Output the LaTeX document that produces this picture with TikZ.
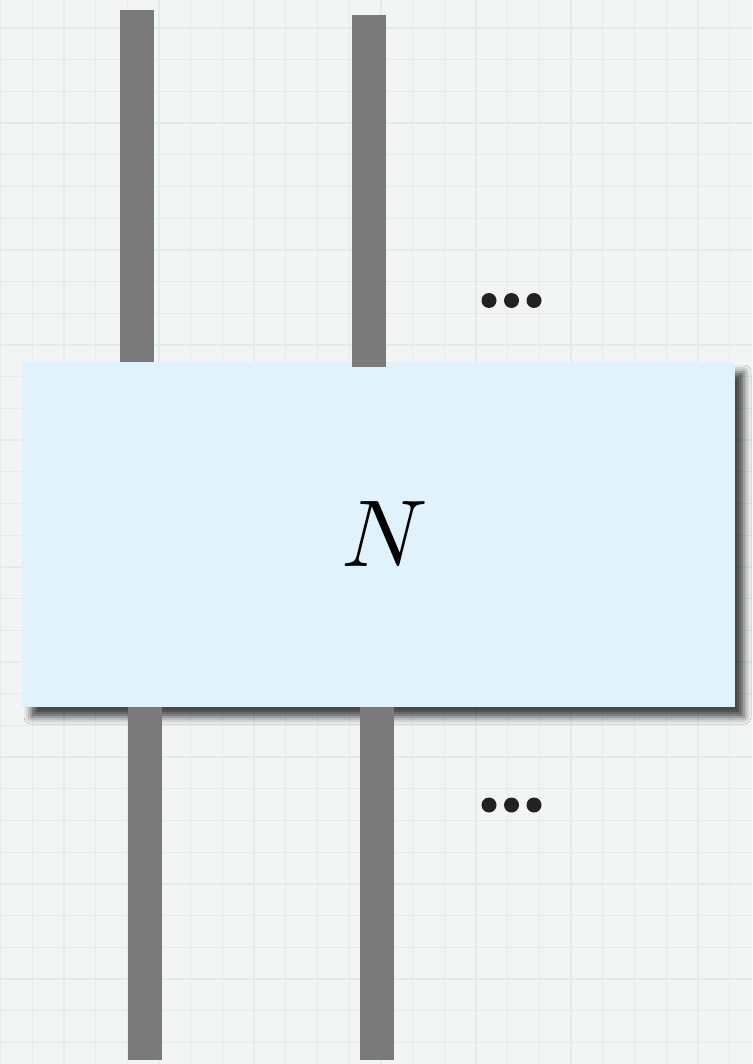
\documentclass[tikz,border=0pt]{standalone}
\usetikzlibrary{positioning,shadows.blur}

\definecolor{paper}{RGB}{243,244,244}
\definecolor{gridcol}{RGB}{226,235,238}
\definecolor{boxcol}{RGB}{224,243,252}
\definecolor{wirecol}{RGB}{122,122,122}
\definecolor{dotcol}{RGB}{34,34,34}

\begin{document}
\begin{tikzpicture}[x=1pt,y=-1pt,
  wire/.style={line width=34pt,wirecol},
  netbox/.style={rectangle,fill=boxcol,minimum width=713pt,minimum height=345pt,
                 inner sep=0pt,
                 blur shadow={shadow xshift=9pt,shadow yshift=-10pt,
                              shadow blur radius=7pt,shadow opacity=70}},
  gridline/.style={gridcol,line width=1.3pt}]

% paper and grid
\fill[paper] (0,0) rectangle (752,1064);
\useasboundingbox (0,0) rectangle (752,1064);
\foreach \gx in {0,...,23}
  \draw[gridline] (\gx*31.7+0.5,0) -- ++(0,1064);
\foreach \gy in {0,...,34}
  \draw[gridline] (0,\gy*31.7-3.7) -- ++(752,0);

% the box
\node[netbox] (net) at (378.5,534.5) {};
\node (lbl) at ([xshift=6pt]net.center) {\scalebox{9.5}{$N$}};

% wire ends
\coordinate (ta) at (137,10);
\coordinate (tb) at (369,15);
\coordinate (ba) at (145,1060);
\coordinate (bb) at (377,1060);

\draw[wire] (ta) -- (ta |- net.north);
\draw[wire] (tb) -- ([yshift=-5pt]tb |- net.north);
\draw[wire] (net.south -| ba) -- (ba);
\draw[wire] (net.south -| bb) -- (bb);

% dots
\coordinate (dtop) at (511.5,300.5);
\coordinate (dbot) at (511.5,805);
\foreach \d in {-22.5,0,22.5} {
  \fill[dotcol] ([xshift=\d pt]dtop) circle (7.5);
  \fill[dotcol] ([xshift=\d pt]dbot) circle (7.5);
}
\end{tikzpicture}
\end{document}
